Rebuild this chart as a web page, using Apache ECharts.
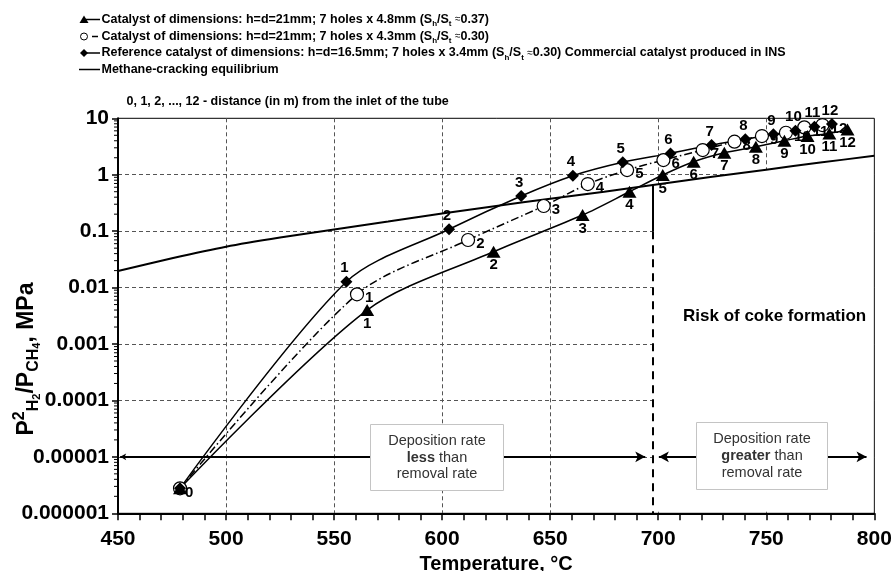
<!DOCTYPE html>
<html>
<head>
<meta charset="utf-8">
<script src="https://cdn.jsdelivr.net/npm/echarts@6/dist/echarts.min.js"></script>
<style>
  html, body { margin: 0; padding: 0; background: #fff; }
  #chart { width: 891px; height: 571px; }
</style>
</head>
<body>
<div id="chart"></div>
<script>
const FONT = '"Liberation Sans", Arial, Helvetica, sans-serif';

// Catalyst h=d=21mm, 7 holes x 4.8mm (Sh/St ~ 0.37)
const tempA  = [478.7, 565.3, 623.8, 665.0, 686.7, 702.1, 716.4, 730.6, 745.2, 758.4, 769.1, 779.2, 787.6];
const ratioA = [2.77e-6, 0.0040, 0.0432, 0.193, 0.50, 0.99, 1.70, 2.45, 3.13, 4.0, 4.85, 5.4, 6.3];

// Catalyst h=d=21mm, 7 holes x 4.3mm (Sh/St ~ 0.30)
const tempB  = [478.7, 560.6, 612.0, 647.0, 667.4, 685.6, 702.4, 720.6, 735.3, 748.0, 759.1, 767.6, 776.0];
const ratioB = [2.77e-6, 0.0076, 0.0697, 0.279, 0.684, 1.21, 1.82, 2.74, 3.85, 4.85, 5.55, 6.9, 7.6];

// Reference catalyst h=d=16.5mm, 7 holes x 3.4mm
const tempC  = [478.7, 555.7, 603.2, 636.6, 660.5, 683.6, 705.7, 724.7, 740.3, 753.3, 763.5, 772.3, 780.4];
const ratioC = [2.77e-6, 0.0127, 0.108, 0.42, 0.96, 1.66, 2.39, 3.36, 4.24, 5.2, 6.0, 7.1, 7.9];

// distance from the tube inlet, m
const pointLabels = ['0', '1', '2', '3', '4', '5', '6', '7', '8', '9', '10', '11', '12'];

// Methane-cracking equilibrium
const eqTemp  = [450, 475, 500, 525, 550, 575, 600, 625, 650, 675, 700, 725, 750, 775, 800];
const eqRatio = [0.0196, 0.033, 0.053, 0.077, 0.107, 0.148, 0.205, 0.28, 0.375, 0.50, 0.68, 0.92, 1.23, 1.64, 2.17];

// Coke-formation boundary and deposition-rate arrows
const cokeLimitTemp = 697.5;
const cokeSolidTo = 0.1;
const rateLevel = 0.00001;

// Axis ticks
const yTickLabels = ['0.000001', '0.00001', '0.0001', '0.001', '0.01', '0.1', '1', '10'];
const yMinorMantissa = [2, 3, 4, 5, 6, 7, 8, 9];

const xMin = 450, xMax = 800, yMin = 1e-6, yMax = 10;

const yMinorTicks = [];
for (let e = -6; e < 1; e++) {
  yMinorMantissa.forEach(m => yMinorTicks.push([xMin, m * Math.pow(10, e)]));
}

// log-linear lookup on the equilibrium curve
function eqAt(t) {
  for (let i = 0; i < eqTemp.length - 1; i++) {
    if (t >= eqTemp[i] && t <= eqTemp[i + 1]) {
      const f = (t - eqTemp[i]) / (eqTemp[i + 1] - eqTemp[i]);
      const a = Math.log10(eqRatio[i]), b = Math.log10(eqRatio[i + 1]);
      return Math.pow(10, a + (b - a) * f);
    }
  }
  return eqRatio[eqRatio.length - 1];
}

const pairs = (ts, vs) => ts.map((t, i) => [t, vs[i]]);

const labelFont = { fontFamily: FONT, fontSize: 15, fontWeight: 'bold', color: '#000' };
const tickFont = { fontFamily: FONT, fontSize: 21, fontWeight: 'bold', color: '#000' };

const legendRich = {
  s: { fontFamily: FONT, fontSize: 8, fontWeight: 'bold', lineHeight: 8, verticalAlign: 'bottom' },
  a: { fontFamily: FONT, fontSize: 10, lineHeight: 17 }
};
const legendText = (txt, top) => ({
  type: 'text', left: 101.5, top: top, style: {
    text: txt, fontFamily: FONT, fontSize: 12.5, fontWeight: 'bold', fill: '#000', lineHeight: 17, rich: legendRich
  }
});

const chart = echarts.init(document.getElementById('chart'), null, { renderer: 'canvas' });

const option = {
  animation: false,
  backgroundColor: '#fff',
  grid: {
    left: 118, right: 16.7, top: 118.3, bottom: 57.7,
    outerBoundsMode: 'none', containLabel: false,
    show: true, borderColor: '#000', borderWidth: 1, backgroundColor: 'transparent'
  },
  xAxis: {
    type: 'value', min: xMin, max: xMax, interval: 50,
    axisLine: { lineStyle: { color: '#000', width: 2 } },
    axisTick: { length: 7, lineStyle: { color: '#000', width: 1.5 } },
    minorTick: { show: true, splitNumber: 5, length: 7, lineStyle: { color: '#000', width: 1.5 } },
    axisLabel: { margin: 15, ...tickFont },
    splitLine: { show: true, showMinLine: false, showMaxLine: false, lineStyle: { color: '#555', width: 1, type: [4, 3] } },
    name: 'Temperature, °C', nameLocation: 'middle', nameGap: 40,
    nameTextStyle: { fontFamily: FONT, fontSize: 20, fontWeight: 'bold', color: '#000' }
  },
  yAxis: {
    type: 'log', logBase: 10, min: yMin, max: yMax, splitNumber: 7,
    axisLine: { show: true, lineStyle: { color: '#000', width: 2 } },
    axisTick: { show: true, length: 6, lineStyle: { color: '#000', width: 1.5 } },
    axisLabel: {
      margin: 9, ...tickFont,
      formatter: v => yTickLabels[Math.round(Math.log10(v)) + 6] || ''
    },
    splitLine: { show: true, showMinLine: false, showMaxLine: false, lineStyle: { color: '#555', width: 1, type: [4, 3] } }
  },
  graphic: [
    // legend
    { type: 'line', shape: { x1: 84, y1: 19.5, x2: 100, y2: 19.5 }, style: { stroke: '#000', lineWidth: 1.5 } },
    { type: 'polygon', shape: { points: [[84, 15.5], [88.5, 23], [79.5, 23]] }, style: { fill: '#000' } },
    legendText('Catalyst of dimensions: h=d=21mm; 7 holes x 4.8mm (S{s|h}/S{s|t} {a|≈}0.37)', 11),
    { type: 'circle', shape: { cx: 84, cy: 36.5, r: 3.5 }, style: { fill: '#fff', stroke: '#000', lineWidth: 1 } },
    { type: 'line', shape: { x1: 92, y1: 36.5, x2: 98, y2: 36.5 }, style: { stroke: '#000', lineWidth: 1.5 } },
    legendText('Catalyst of dimensions: h=d=21mm; 7 holes x 4.3mm (S{s|h}/S{s|t} {a|≈}0.30)', 28),
    { type: 'line', shape: { x1: 84, y1: 53, x2: 100, y2: 53 }, style: { stroke: '#000', lineWidth: 1.5 } },
    { type: 'polygon', shape: { points: [[84, 49], [88, 53], [84, 57], [80, 53]] }, style: { fill: '#000' } },
    legendText('Reference catalyst of dimensions: h=d=16.5mm; 7 holes x 3.4mm (S{s|h}/S{s|t} {a|≈}0.30) Commercial catalyst produced in INS', 44.5),
    { type: 'line', shape: { x1: 79, y1: 69.5, x2: 100, y2: 69.5 }, style: { stroke: '#000', lineWidth: 1.5 } },
    legendText('Methane-cracking equilibrium', 61),
    { type: 'text', left: 126.5, top: 93.5, style: {
        text: '0, 1, 2, ..., 12 - distance (in m) from the inlet of the tube',
        fontFamily: FONT, fontSize: 12.5, fontWeight: 'bold', fill: '#000', lineHeight: 17 } },

    // y-axis title
    { type: 'text', x: 27, y: 359, rotation: Math.PI / 2, style: {
        text: '{p|P}{sup|2}{sub|H}{ss|2}{p|/P}{sub|CH}{ss|4}{p|, MPa}',
        align: 'center', verticalAlign: 'middle',
        rich: {
          p:   { fontFamily: FONT, fontSize: 23, fontWeight: 'bold', fill: '#000', lineHeight: 30 },
          sup: { fontFamily: FONT, fontSize: 16, fontWeight: 'bold', fill: '#000', lineHeight: 20, verticalAlign: 'top' },
          sub: { fontFamily: FONT, fontSize: 16, fontWeight: 'bold', fill: '#000', lineHeight: 20, verticalAlign: 'bottom' },
          ss:  { fontFamily: FONT, fontSize: 11, fontWeight: 'bold', fill: '#000', lineHeight: 12, verticalAlign: 'bottom' }
        } } },

    // annotations
    { type: 'text', left: 683, top: 308, z: 100, style: {
        text: 'Risk of coke formation', fontFamily: FONT, fontSize: 17, fontWeight: 'bold', fill: '#000' } },
    { type: 'rect', shape: { x: 370.5, y: 424.5, width: 133, height: 66 }, z: 100,
      style: { fill: '#fff', stroke: '#c4c4c4', lineWidth: 1 } },
    { type: 'text', x: 437, y: 457.5, z: 101, style: {
        text: 'Deposition rate\n{b|less} than\nremoval rate', align: 'center', verticalAlign: 'middle',
        fontFamily: FONT, fontSize: 14.5, fill: '#333', lineHeight: 16.7,
        rich: { b: { fontFamily: FONT, fontSize: 14.5, fontWeight: 'bold', fill: '#333', lineHeight: 16.7 } } } },
    { type: 'rect', shape: { x: 696.5, y: 422.5, width: 131, height: 67 }, z: 100,
      style: { fill: '#fff', stroke: '#c4c4c4', lineWidth: 1 } },
    { type: 'text', x: 762, y: 456, z: 101, style: {
        text: 'Deposition rate\n{b|greater} than\nremoval rate', align: 'center', verticalAlign: 'middle',
        fontFamily: FONT, fontSize: 14.5, fill: '#333', lineHeight: 16.7,
        rich: { b: { fontFamily: FONT, fontSize: 14.5, fontWeight: 'bold', fill: '#333', lineHeight: 16.7 } } } }
  ],
  series: [
    // blank region under the equilibrium curve beyond the coke limit
    {
      type: 'custom', z: 1, silent: true, clip: false,
      data: [[cokeLimitTemp, yMin]],
      renderItem: (params, api) => {
        const pts = [api.coord([cokeLimitTemp, eqAt(cokeLimitTemp)])];
        eqTemp.forEach((t, i) => { if (t > cokeLimitTemp) pts.push(api.coord([t, eqRatio[i]])); });
        const last = pts[pts.length - 1];
        pts[pts.length - 1] = [last[0] - 1, last[1] + 1];
        const br = api.coord([xMax, yMin]);
        const bl = api.coord([cokeLimitTemp, yMin]);
        pts.push([br[0] - 1, br[1] - 1.5]);
        pts.push([bl[0], bl[1] - 1.5]);
        return { type: 'polygon', shape: { points: pts }, style: { fill: '#fff' } };
      }
    },
    // minor ticks of the log axis
    {
      type: 'custom', z: 3, silent: true, clip: false,
      data: yMinorTicks,
      renderItem: (params, api) => {
        const p = api.coord([api.value(0), api.value(1)]);
        return { type: 'line', shape: { x1: p[0] - 4, y1: p[1], x2: p[0], y2: p[1] },
                 style: { stroke: '#000', lineWidth: 1 } };
      }
    },
    {
      name: 'Methane-cracking equilibrium',
      type: 'line', z: 3, symbol: 'none', smooth: 0.3,
      data: pairs(eqTemp, eqRatio),
      lineStyle: { color: '#000', width: 2 },
      markLine: {
        silent: true, animation: false,
        label: { show: false },
        symbol: 'none',
        lineStyle: { color: '#000', width: 2, type: 'solid' },
        data: [
          [{ coord: [cokeLimitTemp, eqAt(cokeLimitTemp)] }, { coord: [cokeLimitTemp, cokeSolidTo] }],
          [{ coord: [cokeLimitTemp, cokeSolidTo], lineStyle: { type: [8, 6] } }, { coord: [cokeLimitTemp, yMin] }],
          [{ coord: [451, rateLevel], symbol: 'arrow', symbolSize: [5, 6], lineStyle: { width: 1.8 } },
           { coord: [694, rateLevel], symbol: 'arrow', symbolSize: [8, 10] }],
          [{ coord: [700.3, rateLevel], symbol: 'arrow', symbolSize: [8, 10], lineStyle: { width: 1.8 } },
           { coord: [796.4, rateLevel], symbol: 'arrow', symbolSize: [8, 10] }]
        ]
      }
    },
    {
      name: 'Catalyst 4.3mm',
      type: 'line', z: 4, smooth: 0.3,
      data: pairs(tempB, ratioB).map((d, i) => i === 0 ? { value: d, label: { show: false } } : d),
      symbol: 'circle', symbolSize: 13,
      itemStyle: { color: '#fff', borderColor: '#000', borderWidth: 1.2 },
      lineStyle: { color: '#000', width: 1.5, type: [8, 3, 1.5, 3] },
      label: { show: true, position: 'right', distance: 1, offset: [0, 4], formatter: p => pointLabels[p.dataIndex], ...labelFont }
    },
    {
      name: 'Catalyst 4.8mm',
      type: 'line', z: 4, smooth: 0.3,
      data: pairs(tempA, ratioA).map((d, i) => i === 0
        ? { value: d, label: { position: 'right', distance: 1, offset: [-3, 5] } } : d),
      symbol: 'triangle', symbolSize: [14, 12],
      itemStyle: { color: '#000' },
      lineStyle: { color: '#000', width: 1.5 },
      label: { show: true, position: 'bottom', distance: 0, formatter: p => pointLabels[p.dataIndex], ...labelFont }
    },
    {
      name: 'Reference catalyst',
      type: 'line', z: 4, smooth: 0.3,
      data: pairs(tempC, ratioC).map((d, i) => i === 0 ? { value: d, label: { show: false } } : d),
      symbol: 'diamond', symbolSize: 12,
      itemStyle: { color: '#000' },
      lineStyle: { color: '#000', width: 1.5 },
      label: { show: true, position: 'top', distance: 0, offset: [-2, 0], formatter: p => pointLabels[p.dataIndex], ...labelFont }
    }
  ]
};

chart.setOption(option);
</script>
</body>
</html>
